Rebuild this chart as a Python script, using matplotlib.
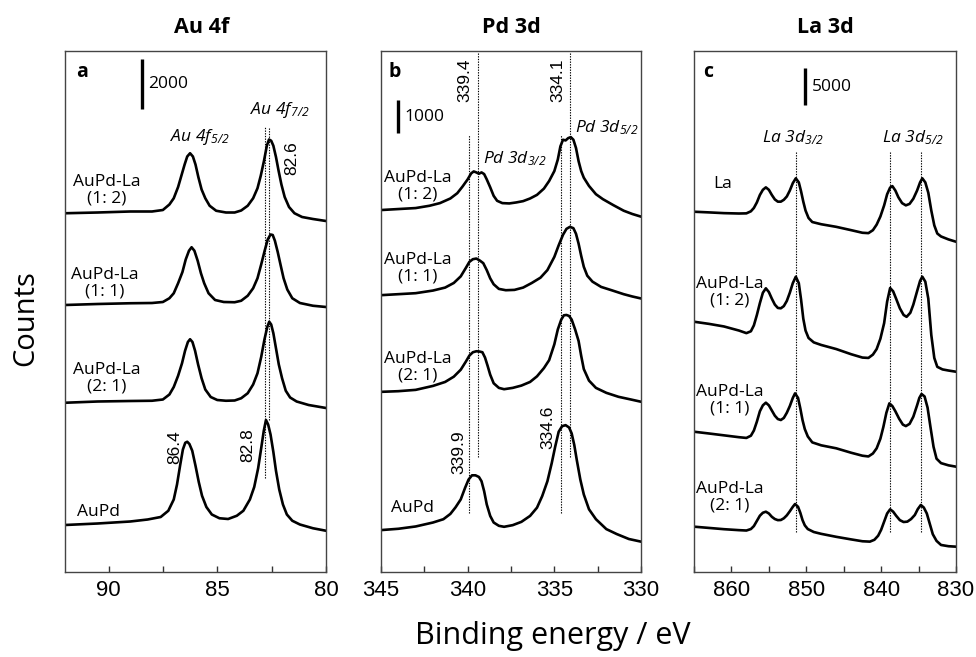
import matplotlib

matplotlib.use("Agg")
import matplotlib.pyplot as plt
from matplotlib.ticker import MultipleLocator

plt.rcParams["font.family"] = ["Open Sans", "DejaVu Sans"]
plt.rcParams["mathtext.fontset"] = "custom"
plt.rcParams["mathtext.rm"] = "Open Sans:italic"
plt.rcParams["mathtext.it"] = "Open Sans:italic"

# ---- panel a: Au 4f (binding energy in eV, counts incl. stacking offset)
AU_12_E = [92.0, 90.5, 89.0, 88.0, 87.5, 87.2, 87.0, 86.8, 86.65, 86.5, 86.38, 86.25, 86.12, 86.0,
           85.87, 85.72, 85.55, 85.35, 85.05, 84.6, 84.2, 83.9, 83.6, 83.35, 83.15, 83.0, 82.85,
           82.72, 82.62, 82.52, 82.42, 82.3, 82.18, 82.05, 81.9, 81.7, 81.45, 81.1, 80.6, 80.0]
AU_12_C = [14350, 14380, 14420, 14420, 14480, 14700, 14950, 15400, 15850, 16300, 16620, 16750, 16620, 16300,
           15800, 15300, 14950, 14650, 14450, 14380, 14380, 14460, 14650, 14950, 15350, 15850, 16450,
           17050, 17300, 17250, 17050, 16600, 16050, 15500, 15000, 14600, 14350, 14200, 14120, 14040]
AU_11_E = [92.0, 90.5, 89.0, 88.0, 87.5, 87.2, 87.0, 86.8, 86.6, 86.45, 86.3, 86.18, 86.05, 85.9,
           85.75, 85.6, 85.4, 85.1, 84.7, 84.2, 83.9, 83.6, 83.35, 83.15, 82.98, 82.82, 82.68,
           82.55, 82.45, 82.35, 82.22, 82.08, 81.95, 81.78, 81.55, 81.2, 80.6, 80.0]
AU_11_C = [10680, 10720, 10750, 10760, 10800, 10950, 11150, 11550, 12000, 12500, 12850, 12990, 12850, 12450,
           11950, 11550, 11150, 10880, 10800, 10790, 10850, 11050, 11350, 11750, 12300, 12850, 13300,
           13500, 13480, 13250, 12800, 12250, 11750, 11300, 10950, 10760, 10650, 10600]
AU_21_E = [92.0, 90.5, 89.0, 88.0, 87.5, 87.2, 87.0, 86.8, 86.62, 86.48, 86.35, 86.25, 86.14, 86.02,
           85.88, 85.72, 85.55, 85.3, 85.0, 84.6, 84.2, 83.9, 83.6, 83.35, 83.15, 82.98, 82.83,
           82.7, 82.61, 82.52, 82.42, 82.3, 82.17, 82.02, 81.85, 81.65, 81.35, 80.8, 80.0]
AU_21_C = [6770, 6820, 6840, 6850, 6900, 7100, 7400, 7850, 8350, 8850, 9200, 9310, 9200, 8850,
           8300, 7750, 7300, 7000, 6880, 6850, 6860, 6950, 7150, 7500, 7950, 8600, 9300,
           9800, 10010, 9900, 9550, 8950, 8300, 7750, 7250, 6980, 6820, 6680, 6560]
AU_PD_E = [92.0, 90.5, 89.0, 88.2, 87.6, 87.25, 87.0, 86.85, 86.7, 86.58, 86.47, 86.38, 86.28, 86.15,
           86.0, 85.85, 85.7, 85.5, 85.25, 84.9, 84.5, 84.1, 83.8, 83.5, 83.3, 83.12, 82.98, 82.86,
           82.76, 82.66, 82.55, 82.42, 82.3, 82.15, 81.98, 81.8, 81.55, 81.2, 80.6, 80.0]
AU_PD_C = [1880, 1940, 2020, 2100, 2200, 2450, 2900, 3500, 4300, 4900, 5170, 5210, 5120, 4850,
           4250, 3600, 3050, 2600, 2300, 2150, 2120, 2250, 2450, 2900, 3400, 4150, 4950, 5650,
           6080, 5900, 5500, 4800, 4050, 3300, 2700, 2300, 2050, 1900, 1750, 1650]

# ---- panel b: Pd 3d
PD_12_E = [345.0, 344.0, 343.0, 342.2, 341.6, 341.0, 340.6, 340.3, 340.0, 339.8, 339.65, 339.5, 339.35,
           339.2, 339.05, 338.9, 338.7, 338.5, 338.3, 338.0, 337.6, 337.2, 336.8, 336.4, 336.0, 335.6,
           335.3, 335.0, 334.8, 334.65, 334.5, 334.35, 334.2, 334.05, 333.9, 333.75, 333.6, 333.45,
           333.3, 333.0, 332.6, 332.2, 331.6, 331.0, 330.5, 330.0]
PD_12_C = [10970, 11000, 11030, 11100, 11180, 11320, 11480, 11680, 11900, 12080, 12140, 12110, 12070,
           12110, 12060, 11900, 11660, 11400, 11250, 11180, 11170, 11200, 11240, 11320, 11430, 11620,
           11850, 12150, 12500, 12900, 13100, 13080, 13150, 13180, 13100, 12850, 12450, 12150,
           11950, 11700, 11450, 11300, 11120, 10950, 10850, 10770]
PD_11_E = [345.0, 344.0, 343.0, 342.0, 341.3, 340.8, 340.4, 340.1, 339.9, 339.7, 339.5, 339.3, 339.1,
           338.9, 338.7, 338.5, 338.2, 337.8, 337.3, 336.8, 336.3, 335.8, 335.4, 335.0, 334.75, 334.5,
           334.3, 334.1, 333.9, 333.75, 333.6, 333.45, 333.3, 333.1, 332.8, 332.3, 331.7, 331.0,
           330.5, 330.0]
PD_11_C = [8390, 8420, 8450, 8530, 8620, 8760, 8960, 9220, 9400, 9480, 9500, 9440, 9360,
           9150, 8900, 8720, 8580, 8540, 8550, 8620, 8760, 8920, 9150, 9550, 9900, 10220,
           10400, 10460, 10420, 10250, 9950, 9580, 9250, 8980, 8800, 8640, 8540, 8420,
           8350, 8290]
PD_21_E = [345.0, 344.0, 343.0, 342.0, 341.3, 340.8, 340.4, 340.1, 339.9, 339.7, 339.5, 339.3, 339.15,
           339.0, 338.85, 338.7, 338.5, 338.2, 337.9, 337.4, 336.9, 336.4, 336.0, 335.6, 335.3, 335.0,
           334.8, 334.6, 334.45, 334.3, 334.15, 334.0, 333.8, 333.6, 333.45, 333.3, 333.0, 332.6,
           332.0, 331.3, 330.6, 330.0]
PD_21_C = [5460, 5480, 5520, 5640, 5760, 5920, 6130, 6380, 6560, 6660, 6690, 6680, 6660,
           6500, 6250, 5980, 5720, 5580, 5540, 5580, 5650, 5760, 5930, 6180, 6420, 6900,
           7350, 7650, 7780, 7790, 7760, 7650, 7350, 7000, 6550, 6150, 5800, 5580,
           5430, 5310, 5230, 5160]
PD_PD_E = [345.0, 344.0, 343.0, 342.0, 341.4, 341.0, 340.7, 340.4, 340.15, 339.95, 339.75, 339.55,
           339.35, 339.2, 339.05, 338.9, 338.7, 338.5, 338.2, 337.9, 337.4, 336.9, 336.4, 336.0, 335.7,
           335.4, 335.15, 334.95, 334.75, 334.55, 334.35, 334.15, 334.0, 333.85, 333.7, 333.5, 333.3,
           333.0, 332.6, 332.0, 331.4, 330.7, 330.0]
PD_PD_C = [1270, 1310, 1380, 1500, 1600, 1760, 1960, 2200, 2550, 2800, 2930, 2930,
           2880, 2750, 2450, 2050, 1700, 1500, 1400, 1370, 1420, 1520, 1700, 1950, 2300,
           2750, 3300, 3800, 4250, 4420, 4450, 4380, 4200, 3850, 3380, 2800, 2350,
           1900, 1600, 1300, 1150, 1000, 920]

# ---- panel c: La 3d
LA_LA_E = [865.0, 863.0, 861.0, 859.0, 858.0, 857.4, 857.0, 856.6, 856.2, 855.8, 855.4, 855.0, 854.6,
           854.2, 853.8, 853.4, 853.0, 852.6, 852.2, 851.8, 851.4, 851.0, 850.7, 850.4, 850.1, 849.7,
           849.2, 848.0, 846.0, 844.0, 842.5, 841.7, 841.1, 840.6, 840.1, 839.6, 839.2, 838.8, 838.5,
           838.1, 837.7, 837.2, 836.7, 836.2, 835.7, 835.2, 834.8, 834.5, 834.1, 833.7, 833.3, 832.9,
           832.5, 832.0, 831.0, 830.0]
LA_LA_C = [48640, 48550, 48450, 48400, 48420, 48700, 49150, 49900, 50900, 51600, 51930, 51600, 50900,
           50300, 50000, 50000, 50250, 50700, 51500, 52500, 53150, 52600, 51400, 50000, 48800, 47800,
           47250, 46950, 46600, 46150, 45800, 45750, 46150, 46900, 48000, 49500, 51000, 51900, 52100,
           51500, 50600, 49800, 49500, 49700, 50400, 51500, 52600, 53150, 52600, 51200, 48800, 46800,
           45700, 45300, 44900, 44590]
LA_12_E = [865.0, 863.0, 861.0, 859.0, 858.0, 857.4, 857.0, 856.6, 856.2, 855.8, 855.4, 855.0, 854.6,
           854.2, 853.8, 853.4, 853.0, 852.6, 852.2, 851.8, 851.4, 851.0, 850.7, 850.4, 850.1, 849.7,
           849.0, 848.0, 846.0, 844.0, 842.5, 841.7, 841.1, 840.6, 840.1, 839.6, 839.2, 838.8, 838.4,
           838.0, 837.5, 837.0, 836.6, 836.1, 835.7, 835.2, 834.8, 834.5, 834.1, 833.7, 833.3, 832.9,
           832.5, 831.8, 831.0, 830.0]
LA_12_C = [33790, 33500, 33150, 32600, 32250, 32500, 33300, 34700, 36300, 37700, 38300, 37800, 36900,
           36100, 35650, 35600, 35900, 36600, 37700, 39000, 39870, 39000, 36800, 34200, 32600, 31600,
           31000, 30650, 30100, 29400, 28950, 28900, 29350, 30100, 31500, 33600, 36500, 38340, 37900,
           36900, 35600, 34700, 34450, 35000, 36100, 37900, 39300, 39870, 39200, 36900, 32000, 28900,
           27700, 27350, 27200, 27040]
LA_11_E = [865.0, 863.0, 861.0, 859.0, 858.0, 857.4, 857.0, 856.6, 856.2, 855.8, 855.4, 855.0, 854.6,
           854.2, 853.8, 853.4, 853.0, 852.6, 852.2, 851.8, 851.5, 851.1, 850.8, 850.5, 850.2, 849.8,
           849.2, 848.0, 846.0, 844.0, 842.5, 841.7, 841.1, 840.6, 840.1, 839.7, 839.3, 838.9, 838.5,
           838.1, 837.6, 837.1, 836.7, 836.2, 835.7, 835.2, 834.9, 834.6, 834.2, 833.8, 833.4, 833.0,
           832.6, 832.0, 831.0, 830.0]
LA_11_C = [18940, 18700, 18450, 18200, 18100, 18400, 19100, 20300, 21700, 22500, 22860, 22500, 21800,
           21100, 20650, 20520, 20800, 21500, 22400, 23500, 24120, 23500, 22100, 20500, 19300, 18300,
           17500, 17100, 16700, 16100, 15700, 15600, 16000, 16700, 18000, 19600, 21500, 22770, 22400,
           21700, 20700, 19900, 19700, 20000, 20970, 22500, 23500, 24030, 23700, 22200, 19500, 16900,
           15300, 14700, 14400, 14220]
LA_21_E = [865.0, 863.0, 861.0, 859.0, 858.0, 857.4, 857.0, 856.6, 856.2, 855.8, 855.4, 855.0, 854.6,
           854.2, 853.8, 853.4, 853.0, 852.6, 852.2, 851.8, 851.5, 851.1, 850.8, 850.5, 850.2, 849.8,
           849.0, 848.0, 846.0, 844.0, 842.5, 841.5, 840.9, 840.4, 840.0, 839.6, 839.2, 838.8, 838.4,
           838.0, 837.5, 837.0, 836.5, 836.0, 835.5, 835.1, 834.7, 834.3, 833.9, 833.5, 833.1, 832.6,
           832.0, 831.0, 830.0]
LA_21_C = [6120, 5950, 5780, 5650, 5600, 5800, 6200, 6900, 7600, 8000, 8140, 7900, 7450,
           7150, 7000, 7020, 7250, 7650, 8200, 8800, 9180, 8800, 8000, 7000, 6300, 5800,
           5400, 5150, 4750, 4400, 4150, 4100, 4350, 4900, 5700, 6800, 7900, 8460, 8150,
           7600, 7000, 6750, 6800, 7150, 7700, 8500, 9050, 8700, 7900, 6500, 5100, 4200,
           3650, 3480, 3420]

TITLES = ["Au 4f", "Pd 3d", "La 3d"]
LETTERS = ["a", "b", "c"]
XLIMS = [(92, 80), (345, 330), (865, 830)]
YTOPS = [20840, 15790, 70340]
TICK_STEP = [(5, 2.5), (5, 2.5), (10, 5)]

SAMPLE_LABELS = ["AuPd-La\n(1: 2)", "AuPd-La\n(1: 1)", "AuPd-La\n(2: 1)", "AuPd"]


def setup_axes(ax, title, letter, xlim, ytop, steps, title_x=0.5):
    ax.set_xlim(*xlim)
    ax.set_ylim(0, ytop)
    ax.set_yticks([])
    ax.xaxis.set_major_locator(MultipleLocator(steps[0]))
    ax.xaxis.set_minor_locator(MultipleLocator(steps[1]))
    ax.tick_params(axis="x", which="both", direction="in", length=4, width=1.0, color="#333333",
                   labelsize=16, pad=6, labelfontfamily="Liberation Sans")
    for side in ax.spines.values():
        side.set_color("#444444")
        side.set_linewidth(1.0)
    ax.text(title_x, 1.046, title, transform=ax.transAxes, ha="center", va="center",
            fontsize=15.5, fontweight="bold")
    ax.text(0.065 if letter == "a" else 0.054, 0.96, letter, transform=ax.transAxes,
            ha="center", va="center", fontsize=14, fontweight="bold")


def curve(ax, e, c):
    ax.plot(e, c, color="black", lw=1.9, solid_joinstyle="round")


def vline(ax, x, y0, y1):
    ax.plot([x, x], [y0, y1], color="black", lw=0.8, ls=(0, (1.2, 1.2)))


def scale_bar(ax, x, y0, y1, label, dx):
    ax.plot([x, x], [y0, y1], color="black", lw=2.4, solid_capstyle="butt")
    ax.text(x - dx, (y0 + y1) / 2, label, ha="left", va="center", fontsize=12.5)


fig = plt.figure(figsize=(9.76, 6.57), dpi=100)
ax_a = fig.add_axes([65 / 976, 1 - 572 / 657, 261 / 976, 521 / 657])
ax_b = fig.add_axes([381 / 976, 1 - 572 / 657, 260 / 976, 521 / 657])
ax_c = fig.add_axes([694 / 976, 1 - 572 / 657, 262 / 976, 521 / 657])

for ax, title, letter, xlim, ytop, steps, tx in zip(
        (ax_a, ax_b, ax_c), TITLES, LETTERS, XLIMS, YTOPS, TICK_STEP, (0.525, 0.5, 0.5)):
    setup_axes(ax, title, letter, xlim, ytop, steps, tx)

num_font = dict(fontsize=12.5, family="Liberation Sans", rotation=90, ha="center", va="center")
lab_font = dict(fontsize=12.5, ha="center", va="center", multialignment="center", linespacing=1.05)
peak_font = dict(fontsize=12.5, style="italic", ha="center", va="center")

# panel a
for e, c in ((AU_12_E, AU_12_C), (AU_11_E, AU_11_C), (AU_21_E, AU_21_C), (AU_PD_E, AU_PD_C)):
    curve(ax_a, e, c)
vline(ax_a, 82.8, 3760, 17800)
vline(ax_a, 82.6, 6080, 17800)
scale_bar(ax_a, 88.46, 18520, 20520, "2000", 0.28)
ax_a.text(85.79, 17400, r"Au 4f$_{5/2}$", **peak_font)
ax_a.text(82.11, 18480, r"Au 4f$_{7/2}$", **peak_font)
ax_a.text(81.56, 16560, "82.6", **num_font)
ax_a.text(86.94, 5000, "86.4", **num_font)
ax_a.text(83.59, 5080, "82.8", **num_font)
for label, x, y in zip(SAMPLE_LABELS, (90.07, 90.16, 90.07, 90.44), (15280, 11560, 7760, 2400)):
    ax_a.text(x, y, label, **lab_font)

# panel b
for e, c in ((PD_12_E, PD_12_C), (PD_11_E, PD_11_C), (PD_21_E, PD_21_C), (PD_PD_E, PD_PD_C)):
    curve(ax_b, e, c)
vline(ax_b, 339.4, 3490, 15730)
vline(ax_b, 334.1, 3490, 15730)
vline(ax_b, 339.9, 1790, 13240)
vline(ax_b, 334.6, 1790, 13240)
scale_bar(ax_b, 344.02, 13290, 14290, "1000", 0.35)
ax_b.text(340.15, 14910, "339.4", **num_font)
ax_b.text(334.79, 14910, "334.1", **num_font)
ax_b.text(340.50, 3640, "339.9", **num_font)
ax_b.text(335.36, 4390, "334.6", **num_font)
ax_b.text(337.27, 12540, r"Pd 3d$_{3/2}$", **peak_font)
ax_b.text(331.96, 13480, r"Pd 3d$_{5/2}$", **peak_font)
for label, x, y in zip(SAMPLE_LABELS, (342.87, 342.87, 342.87, 343.21), (11700, 9210, 6210, 1940)):
    ax_b.text(x, y, label, **lab_font)

# panel c
for e, c in ((LA_LA_E, LA_LA_C), (LA_12_E, LA_12_C), (LA_11_E, LA_11_C), (LA_21_E, LA_21_C)):
    curve(ax_c, e, c)
for x in (851.4, 838.8, 834.7):
    vline(ax_c, x, 5440, 56740)
scale_bar(ax_c, 850.17, 63000, 68000, "5000", 0.9)
ax_c.text(851.78, 58590, r"La 3d$_{3/2}$", **peak_font)
ax_c.text(835.75, 58590, r"La 3d$_{5/2}$", **peak_font)
ax_c.text(861.13, 52380, "La", **lab_font)
for label, y in zip(SAMPLE_LABELS[:3], (37800, 23220, 10130)):
    ax_c.text(860.19, y, label, **lab_font)

fig.text(26 / 976, 1 - 318 / 657, "Counts", rotation=90, ha="center", va="center", fontsize=21)
fig.text(553 / 976, 1 - 636 / 657, "Binding energy / eV", ha="center", va="center", fontsize=22)

fig.savefig("out.png", dpi=100)
